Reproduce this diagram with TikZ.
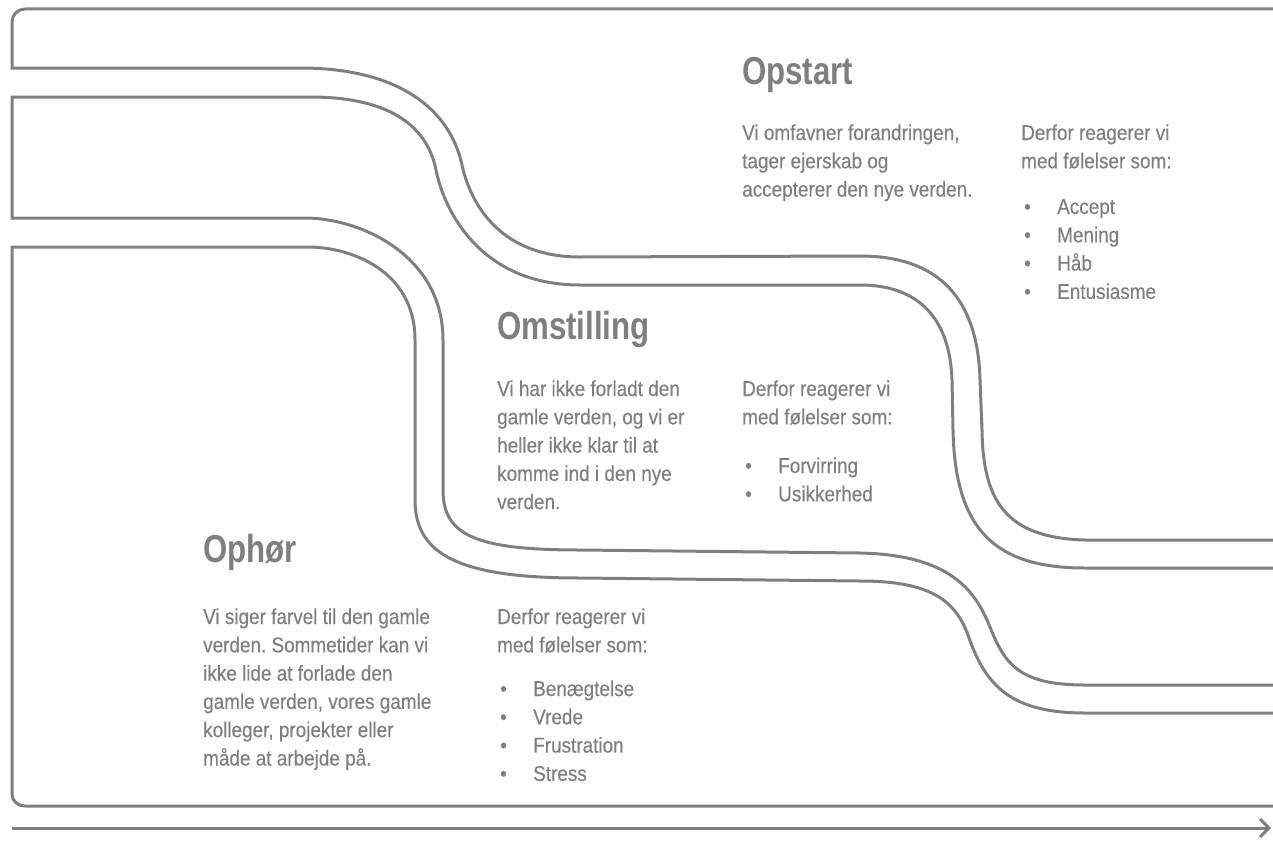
\documentclass[tikz,border=0pt]{standalone}
\usepackage{fontspec}
\setmainfont{Liberation Sans}[FakeStretch=0.88,FakeBold=0.3]
\newfontfamily\headfont{Liberation Sans}[FakeStretch=0.8]
\usetikzlibrary{arrows.meta}
\frenchspacing
\definecolor{linegray}{RGB}{127,127,127}
\newcommand\blk[1]{\vtop{\baselineskip=28.3pt\lineskip=0pt\lineskiplimit=-30pt\halign{##\hfil\cr#1\crcr}}}
\newcommand\bl[1]{\hspace*{3pt}\makebox[33pt][l]{\textbullet}#1}
\tikzset{
  road/.style={draw=linegray, line width=3pt},
  bodytxt/.style={anchor=base west, inner sep=0pt, text=linegray, font=\fontsize{21.5}{28.3}\selectfont},
  headtxt/.style={anchor=base west, inner sep=0pt, text=linegray, font=\headfont\bfseries\fontsize{39}{45}\selectfont}
}
\begin{document}
\begin{tikzpicture}[x=1pt,y=-1pt]
\useasboundingbox (0,0) rectangle (1273,843);
\clip (0,0) rectangle (1273,843);
% upper edge of the upper road (joined to the frame top)
\draw[road] (1280,9) -- (25,9) .. controls (17.8,9) and (12,14.8) .. (12,22) -- (12,68) -- (300,68)
  .. controls (400,68) and (450,110) .. (462,165)
  .. controls (472,210) and (505,257) .. (580,257) -- (860,256)
  .. controls (940,256) and (978,300) .. (980,380) -- (982,430)
  .. controls (983,500) and (1005,538) .. (1085,540) -- (1280,540);
% lower edge of upper road + upper edge of lower road
\draw[road] (1280,568) -- (1085,568) .. controls (995,568) and (955,530) .. (953,430) -- (952,380)
  .. controls (950,320) and (920,285) .. (860,285) -- (580,285)
  .. controls (480,285) and (444,210) .. (436,170)
  .. controls (428,130) and (395,97) .. (310,97) -- (12,97) -- (12,218) -- (305,218)
  .. controls (360,218) and (443,255) .. (443,340) -- (443,490)
  .. controls (443,535) and (475,550) .. (580,550) -- (860,553)
  .. controls (950,555) and (975,590) .. (990,627)
  .. controls (1005,665) and (1020,685) .. (1085,685) -- (1280,685);
% lower edge of lower road (joined to the frame bottom)
\draw[road] (1280,713) -- (1085,713) .. controls (1010,713) and (985,685) .. (968,635)
  .. controls (955,600) and (930,581) .. (860,581) -- (580,578)
  .. controls (460,578) and (415,555) .. (415,500) -- (415,340)
  .. controls (415,270) and (350,247) .. (308,247) -- (12,247) -- (12,794)
  .. controls (12,801) and (17.8,806) .. (25,806) -- (1280,806);
% time arrow
\coordinate (arrS) at (12,828);
\coordinate (arrE) at (1271,828);
\draw[road, -{Straight Barb[length=9pt,width=18pt]}] (arrS) -- (arrE);
% Opstart
\node[headtxt] (h3) at (742,84) {Opstart};
\node[bodytxt] (b3) at (742,140) {\blk{Vi omfavner forandringen,\cr tager ejerskab og\cr accepterer den nye verden.}};
\node[bodytxt] (d3) at (1021,140) {\blk{Derfor reagerer vi\cr med følelser som:}};
\node[bodytxt] (l3) at (1021,214) {\blk{\bl{Accept}\cr\bl{Mening}\cr\bl{Håb}\cr\bl{Entusiasme}}};
% Omstilling
\node[headtxt] (h2) at (497,339) {Omstilling};
\node[bodytxt] (b2) at (497,396) {\blk{Vi har ikke forladt den\cr gamle verden, og vi er\cr heller ikke klar til at\cr komme ind i den nye\cr verden.}};
\node[bodytxt] (d2) at (742,396) {\blk{Derfor reagerer vi\cr med følelser som:}};
\node[bodytxt] (l2) at (742,473) {\blk{\bl{Forvirring}\cr\bl{Usikkerhed}}};
% Ophør
\node[headtxt] (h1) at (203,562) {Ophør};
\node[bodytxt] (b1) at (203,624) {\blk{Vi siger farvel til den gamle\cr verden. Sommetider kan vi\cr ikke lide at forlade den\cr gamle verden, vores gamle\cr kolleger, projekter eller\cr måde at arbejde på.}};
\node[bodytxt] (d1) at (497,624) {\blk{Derfor reagerer vi\cr med følelser som:}};
\node[bodytxt] (l1) at (497,696) {\blk{\bl{Benægtelse}\cr\bl{Vrede}\cr\bl{Frustration}\cr\bl{Stress}}};
\end{tikzpicture}
\end{document}
